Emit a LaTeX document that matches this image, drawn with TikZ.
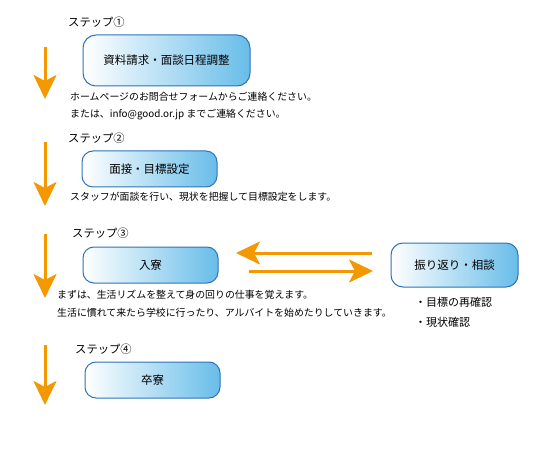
\documentclass[tikz,border=0pt]{standalone}
\usepackage{fontspec}
\setmainfont{Noto Sans CJK JP}
\usetikzlibrary{arrows.meta}
\definecolor{flowarrow}{HTML}{F39800}
\definecolor{boxline}{HTML}{2F72B8}
\definecolor{boxfill}{HTML}{68BDE9}

\begin{document}
\begin{tikzpicture}[x=1pt,y=-1pt,stepbox/.style n args={3}{minimum width=#1pt,minimum height=#2pt,rounded corners=#3pt,draw=boxline,line width=1pt,shading=axis,left color=white,right color=boxfill,font=\fontsize{11.5}{13}\selectfont,inner sep=0pt},flow/.style={flowarrow,line width=3pt,-{Stealth[length=24pt,width=23pt,inset=6pt]}},note/.style={anchor=west,inner sep=0pt,font=\fontsize{9.9}{11}\selectfont},steplabel/.style={anchor=west,inner sep=0pt,font=\fontsize{11.3}{13}\selectfont}]
\useasboundingbox (0,0) rectangle (550,460);
\node[stepbox={167}{51}{13}] (apply) at (166.5,60.5) {資料請求・面談日程調整};
\node[stepbox={135}{36}{11}] (interview) at (149.5,169) {面接・目標設定};
\node[stepbox={135}{36}{11}] (enter) at (150.5,265) {入寮};
\node[stepbox={135}{36}{11}] (leave) at (152.5,380) {卒寮};
\node[stepbox={127}{44}{12}] (review) at (454.5,265) {振り返り・相談};
\foreach \n/\x/\y/\l in %
{1/68/22/①,2/68/138/②,3/72/233/③,4/75/349/④} {
   \node[steplabel] (step\n) at (\x,\y) {ステップ\l};
}
\node[note] (note1a) at (70,97) {ホームページのお問合せフォームからご連絡ください。};
\node[note] (note1b) at (70,115) {または、info@good.or.jp までご連絡ください。};
\node[note] (note2) at (70,197) {スタッフが面談を行い、現状を把握して目標設定をします。};
\node[note] (note3a) at (57,295) {まずは、生活リズムを整えて身の回りの仕事を覚えます。};
\node[note] (note3b) at (57,313) {生活に慣れて来たら学校に行ったり、アルバイトを始めたりしていきます。};
\node[steplabel,font=\fontsize{11}{13}\selectfont] (check1) at (415,302) {・目標の再確認};
\node[steplabel,font=\fontsize{11}{13}\selectfont] (check2) at (415,322) {・現状確認};
\foreach \n/\a/\b in %
{1/47/99,2/142/206,3/234/298,4/345/405} {
   \coordinate (top\n) at (45,\a);
   \coordinate (tip\n) at (45,\b);
   \draw[flow] (top\n) -- (tip\n);
}
\coordinate (backtail) at (372,253);
\coordinate (backtip) at (236,253);
\coordinate (gotail) at (249,271);
\coordinate (gotip) at (373,271);
\draw[flow] (backtail) -- (backtip);
\draw[flow] (gotail) -- (gotip);
\end{tikzpicture}
\end{document}
